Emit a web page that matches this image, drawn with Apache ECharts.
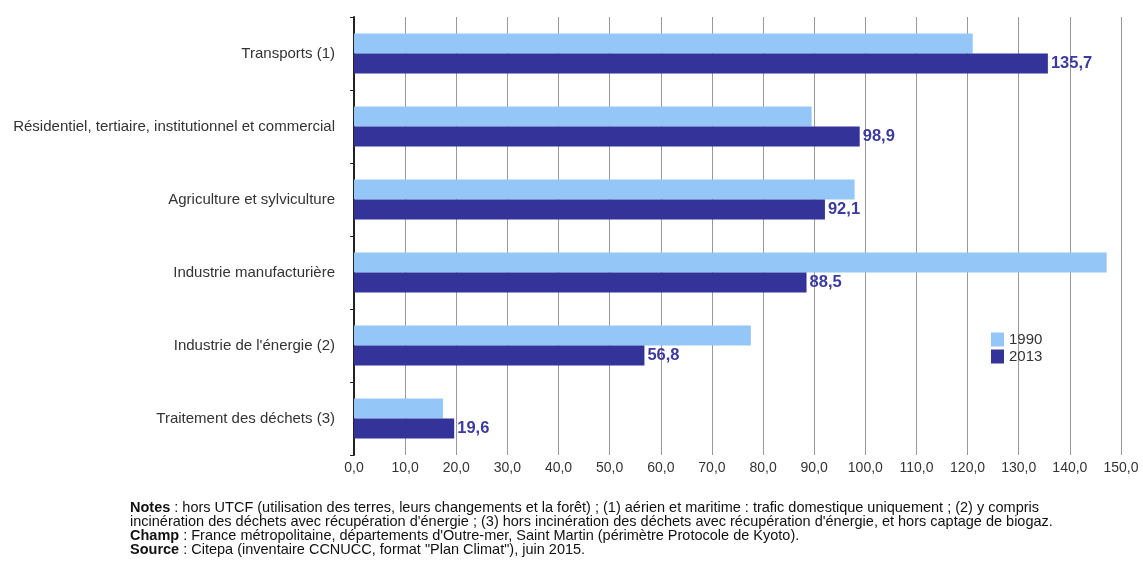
<!DOCTYPE html>
<html><head><meta charset="utf-8">
<script src="https://cdn.jsdelivr.net/npm/echarts@6/dist/echarts.min.js"></script>
<style>html,body{margin:0;padding:0;background:#fff}#c{width:1143px;height:566px}</style>
</head><body><div id="c"></div>
<script>
const categories = ["Traitement des déchets (3)","Industrie de l'énergie (2)","Industrie manufacturière","Agriculture et sylviculture","Résidentiel, tertiaire, institutionnel et commercial","Transports (1)"];
const values1990 = [17.4, 77.6, 147.2, 97.9, 89.5, 121.0];
const values2013 = [19.6, 56.8, 88.5, 92.1, 98.9, 135.7];
const seriesNames = ["1990","2013"];
const noteLines = [
  ["Notes", " : hors UTCF (utilisation des terres, leurs changements et la forêt) ; (1) aérien et maritime : trafic domestique uniquement ; (2) y compris"],
  ["", "incinération des déchets avec récupération d'énergie ; (3) hors incinération des déchets avec récupération d'énergie, et hors captage de biogaz."],
  ["Champ", " : France métropolitaine, départements d'Outre-mer, Saint Martin (périmètre Protocole de Kyoto)."],
  ["Source", " : Citepa (inventaire CCNUCC, format \"Plan Climat\"), juin 2015."]
];
const fmt = v => v.toFixed(1).replace('.', ',');
const chart = echarts.init(document.getElementById('c'));
const font = 'Liberation Sans, Arial, sans-serif';
chart.setOption({
  animation: false,
  textStyle: {fontFamily: font},
  grid: {left: 354, right: 22, top: 17, bottom: 111, containLabel: false},
  legend: {
    orient: 'vertical', left: 986, top: 327, itemWidth: 13, itemHeight: 14, itemGap: 2,
    icon: 'rect', data: seriesNames,
    textStyle: {fontSize: 15, lineHeight: 14, color: '#333', fontFamily: font}
  },
  xAxis: {
    type: 'value', min: 0, max: 150, interval: 10,
    axisLine: {show: false}, axisTick: {show: false},
    axisLabel: {formatter: v => fmt(v), fontSize: 14, color: '#333', margin: 6, fontFamily: font},
    splitLine: {show: true, lineStyle: {color: '#999', width: 1}}
  },
  yAxis: {
    type: 'category', data: categories,
    axisLine: {show: true, lineStyle: {color: '#222', width: 2}},
    axisTick: {show: true, length: 4, lineStyle: {color: '#222'}},
    axisLabel: {fontSize: 15, color: '#333', margin: 19, fontFamily: font}
  },
  series: [
    {name: seriesNames[0], type: 'bar', data: values1990, barWidth: 20, barGap: '0%',
     itemStyle: {color: '#94c7f8'}},
    {name: seriesNames[1], type: 'bar', data: values2013, barWidth: 20, barGap: '0%',
     itemStyle: {color: '#333399'},
     label: {show: true, position: 'right', distance: 3, formatter: p => fmt(p.value),
       fontSize: 16.5, fontWeight: 'bold', color: '#3a3aa0', fontFamily: font}}
  ],
  graphic: noteLines.map((l, i) => ({
    type: 'text', left: 130, top: 500 + i * 14,
    style: {
      text: (l[0] ? '{b|' + l[0] + '}' : '') + '{n|' + l[1] + '}',
      rich: {
        b: {fontWeight: 'bold', fontSize: 14.5, lineHeight: 14, fill: '#111', fontFamily: font},
        n: {fontSize: 14.5, lineHeight: 14, fill: '#111', fontFamily: font}
      }
    }
  }))
});
</script></body></html>
